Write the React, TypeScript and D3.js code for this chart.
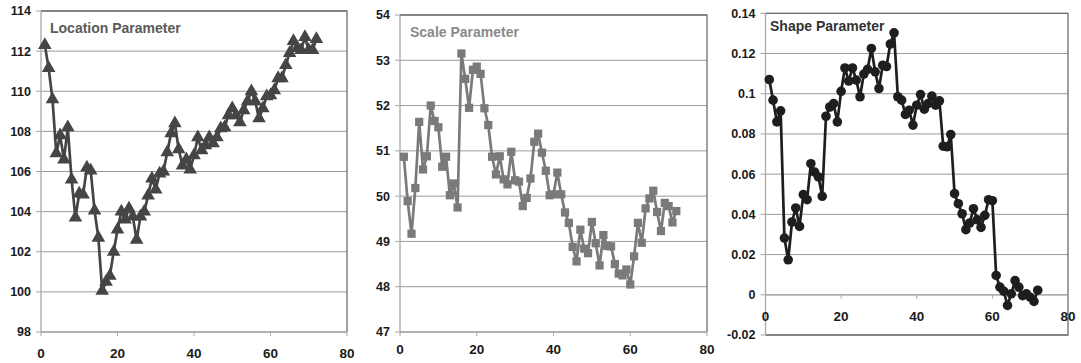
import * as d3 from "d3";

// x index of every estimate (1..72)
const steps = d3.range(1, 73);

const locationValues = [
  112.3, 111.15, 109.6, 106.9, 107.8, 106.6, 108.2, 105.6, 103.7, 104.9,
  104.85, 106.2, 106.05, 104.05, 102.7, 100.05, 100.5, 100.8, 102.0, 103.1,
  104.0, 103.6, 104.15, 103.75, 102.6, 103.75, 104.0, 104.8, 105.65, 105.1,
  105.9, 106.0, 106.95, 107.9, 108.4, 107.1, 106.3, 106.6, 106.1, 106.8,
  107.7, 107.05, 107.3, 107.7, 107.4, 107.7, 108.15, 108.2, 108.8, 109.15,
  108.8, 108.45, 109.05, 109.5, 110.0, 109.5, 108.65, 109.15, 109.75, 109.8,
  110.05, 110.65, 110.65, 111.3, 111.9, 112.5, 112.15, 112.05, 112.7, 112.05,
  112.05, 112.6,
];

const scaleValues = [
  50.87, 49.89, 49.17, 50.18, 51.64, 50.59, 50.88, 52.0, 51.66, 51.52,
  50.65, 50.87, 50.02, 50.28, 49.75, 53.15, 52.59, 51.95, 52.79, 52.86,
  52.7, 51.94, 51.57, 50.87, 50.48, 50.88, 50.37, 50.26, 50.98, 50.35,
  50.32, 49.78, 49.96, 50.39, 51.2, 51.38, 50.96, 50.56, 50.02, 50.04,
  50.52, 50.04, 49.64, 49.41, 48.88, 48.56, 49.26, 48.84, 48.74, 49.43,
  48.96, 48.47, 49.14, 48.9, 48.89, 48.5, 48.29, 48.25, 48.38, 48.05,
  48.67, 49.41, 48.97, 49.73, 49.95, 50.12, 49.65, 49.23, 49.85, 49.78,
  49.42, 49.67,
];

const shapeValues = [
  0.107, 0.0968, 0.086, 0.0915, 0.0282, 0.0174, 0.0362, 0.0432, 0.034, 0.0498,
  0.0473, 0.0652, 0.061, 0.0586, 0.049, 0.0888, 0.0934, 0.0951, 0.086, 0.1012,
  0.1128, 0.1063, 0.1128, 0.1068, 0.0985, 0.1098, 0.1121, 0.1225, 0.1109, 0.1026,
  0.1142, 0.1135, 0.1247, 0.1303, 0.0985, 0.0968, 0.0897, 0.0918, 0.0844, 0.0943,
  0.0996, 0.0923, 0.0951, 0.0988, 0.0943, 0.0965, 0.0739, 0.0736, 0.0797, 0.0503,
  0.0453, 0.0403, 0.0324, 0.0357, 0.0428, 0.0373, 0.0335, 0.0395, 0.0473, 0.0468,
  0.0096, 0.0038, 0.0018, -0.0053, 0.0005, 0.0071, 0.0038, -0.0004, 0.0005, -0.0012,
  -0.0033, 0.0023,
];

const xTicks = [0, 20, 40, 60, 80];
const locationTicks = [98, 100, 102, 104, 106, 108, 110, 112, 114];
const scaleTicks = [47, 48, 49, 50, 51, 52, 53, 54];
const shapeTicks = [-0.02, 0, 0.02, 0.04, 0.06, 0.08, 0.1, 0.12, 0.14];

const font = "'Liberation Sans', Arial, sans-serif";

type PanelProps = {
  title: string;
  values: number[];
  yTicks: number[];
  left: number;
  right: number;
  top: number;
  bottom: number;
  color: string;
  titleColor: string;
  titleX: number;
  titleY: number;
  marker: "triangle" | "square" | "circle";
  xLabelDy: number;
  xAxisAtZero?: boolean;
};

function Panel(p: PanelProps) {
  const x = d3.scaleLinear().domain([0, 80]).range([p.left, p.right]);
  const yMin = p.yTicks[0];
  const yMax = p.yTicks[p.yTicks.length - 1];
  const y = d3.scaleLinear().domain([yMin, yMax]).range([p.bottom, p.top]);
  const axisY = p.xAxisAtZero ? y(0) : p.bottom;

  const line = d3
    .line<number>()
    .x((_, i) => x(steps[i]))
    .y((d) => y(d));

  const symbolType =
    p.marker === "triangle"
      ? d3.symbolTriangle
      : p.marker === "square"
      ? d3.symbolSquare
      : d3.symbolCircle;
  const symbolSize = p.marker === "triangle" ? 80 : p.marker === "square" ? 68 : 72;
  const sym = d3.symbol().type(symbolType).size(symbolSize)();

  return (
    <g>
      {/* gridlines */}
      {p.yTicks.map((t) => (
        <line
          key={"g" + t}
          x1={p.left}
          x2={p.right}
          y1={y(t)}
          y2={y(t)}
          stroke="#9a9a9a"
          strokeWidth={1}
        />
      ))}
      {/* plot border top/right (and bottom) */}
      <path
        d={`M${p.left},${p.top}H${p.right}V${p.bottom}${p.xAxisAtZero ? `H${p.left}` : ""}`}
        fill="none"
        stroke="#6e6e6e"
        strokeWidth={1.3}
      />
      {/* y axis */}
      <line x1={p.left} x2={p.left} y1={p.top} y2={p.bottom} stroke="#a8a8a8" strokeWidth={1.3} />
      {p.yTicks.map((t) => (
        <g key={"y" + t}>
          <line x1={p.left - 5} x2={p.left} y1={y(t)} y2={y(t)} stroke="#a8a8a8" />
          <text
            x={p.left - 10}
            y={y(t)}
            dy="0.35em"
            textAnchor="end"
            fontFamily={font}
            fontWeight="bold"
            fontSize={12.5}
            fill="#1a1a1a"
          >
            {t}
          </text>
        </g>
      ))}
      {/* x axis */}
      <line x1={p.left} x2={p.right} y1={axisY} y2={axisY} stroke="#a8a8a8" strokeWidth={1.3} />
      {xTicks.map((t) => (
        <g key={"x" + t}>
          <line x1={x(t)} x2={x(t)} y1={axisY} y2={axisY + 4} stroke="#a8a8a8" />
          <text
            x={x(t)}
            y={axisY + p.xLabelDy}
            textAnchor="middle"
            fontFamily={font}
            fontWeight="bold"
            fontSize={13.5}
            fill="#1a1a1a"
          >
            {t}
          </text>
        </g>
      ))}
      {/* series */}
      <path d={line(p.values) ?? ""} fill="none" stroke={p.color} strokeWidth={2.7} strokeLinejoin="round" />
      {p.values.map((v, i) => (
        <path key={"m" + i} d={sym ?? ""} transform={`translate(${x(steps[i])},${y(v)})`} fill={p.color} />
      ))}
      <text
        x={p.titleX}
        y={p.titleY}
        fontFamily={font}
        fontWeight="bold"
        fontSize={14}
        fill={p.titleColor}
      >
        {p.title}
      </text>
    </g>
  );
}

export default function App() {
  return (
    <svg
      width={1081}
      height={363}
      style={{ position: "absolute", left: 0, top: 0, background: "#fff" }}
    >
      <rect width={1081} height={363} fill="#fff" />
      <Panel
        title="Location Parameter"
        values={locationValues}
        yTicks={locationTicks}
        left={41}
        right={347}
        top={11}
        bottom={332}
        color="#454545"
        titleColor="#5a5a5a"
        titleX={50}
        titleY={33}
        marker="triangle"
        xLabelDy={26}
      />
      <Panel
        title="Scale Parameter"
        values={scaleValues}
        yTicks={scaleTicks}
        left={400}
        right={707}
        top={15}
        bottom={332}
        color="#7a7a7a"
        titleColor="#8a8a8a"
        titleX={410}
        titleY={37}
        marker="square"
        xLabelDy={22}
      />
      <Panel
        title="Shape Parameter"
        values={shapeValues}
        yTicks={shapeTicks}
        left={765.5}
        right={1068}
        top={13.3}
        bottom={335}
        color="#1e1e1e"
        titleColor="#333333"
        titleX={770}
        titleY={31}
        marker="circle"
        xLabelDy={26}
        xAxisAtZero
      />
    </svg>
  );
}
